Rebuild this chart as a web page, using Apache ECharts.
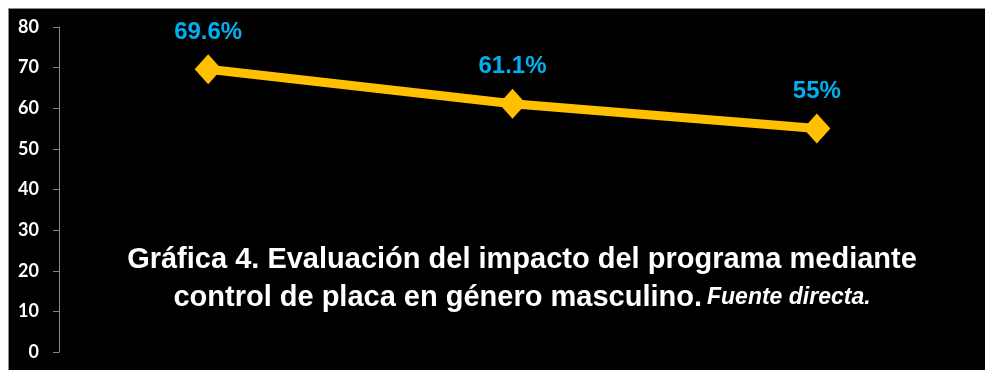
<!DOCTYPE html>
<html>
<head>
<meta charset="utf-8">
<script src="https://cdn.jsdelivr.net/npm/echarts@6/dist/echarts.min.js"></script>
<style>
  html, body { margin: 0; padding: 0; background: #ffffff; }
  #chart { width: 985px; height: 370px; }
</style>
</head>
<body>
<div id="chart"></div>
<script>
// Percentages of male patients by evaluation stage
const categories = ['Evaluación 1', 'Evaluación 2', 'Evaluación 3'];
const values = [69.6, 61.1, 55];
const yTicks = { min: 0, max: 80, interval: 10 };

const chart = echarts.init(document.getElementById('chart'));

chart.setOption({
  backgroundColor: '#ffffff',
  animation: false,
  graphic: [
    {
      type: 'rect',
      z: -10,
      shape: { x: 8.5, y: 8.5, width: 985, height: 370 },
      style: { fill: '#000000', stroke: '#8c8c8c', lineWidth: 1 }
    }
  ],
  title: {
    left: 517,
    top: 236,
    textAlign: 'center',
    text: '{a|Gráfica 4. Evaluación del impacto del programa mediante}\n{a|control de placa en género masculino.} {b|Fuente directa.}',
    textStyle: {
      rich: {
        a: {
          color: '#ffffff',
          fontFamily: 'Liberation Sans, Arial, sans-serif',
          fontWeight: 'bold',
          fontSize: 29,
          lineHeight: 38
        },
        b: {
          color: '#ffffff',
          fontFamily: 'Liberation Sans, Arial, sans-serif',
          fontWeight: 'bold',
          fontStyle: 'italic',
          fontSize: 23,
          lineHeight: 38
        }
      }
    }
  },
  grid: { left: 56, right: 16, top: 27, bottom: 18 },
  xAxis: {
    type: 'category',
    data: categories,
    boundaryGap: true,
    show: false
  },
  yAxis: {
    type: 'value',
    min: yTicks.min,
    max: yTicks.max,
    interval: yTicks.interval,
    offset: -3,
    splitLine: { show: false },
    axisLine: { show: true, lineStyle: { color: '#868686', width: 1 } },
    axisTick: { show: true, inside: false, length: 6, lineStyle: { color: '#868686' } },
    axisLabel: {
      color: '#ffffff',
      fontFamily: 'Lato, sans-serif',
      fontWeight: 'bold',
      fontSize: 18,
      margin: 20
    }
  },
  series: [
    {
      type: 'line',
      data: values,
      symbol: 'diamond',
      symbolSize: [27, 30],
      lineStyle: { color: '#FFC000', width: 9 },
      itemStyle: { color: '#FFC000' },
      label: {
        show: true,
        position: 'top',
        distance: 10,
        formatter: p => p.value + '%',
        color: '#00B0F0',
        fontFamily: 'Liberation Sans, Arial, sans-serif',
        fontWeight: 'bold',
        fontSize: 24
      }
    }
  ]
});
</script>
</body>
</html>
